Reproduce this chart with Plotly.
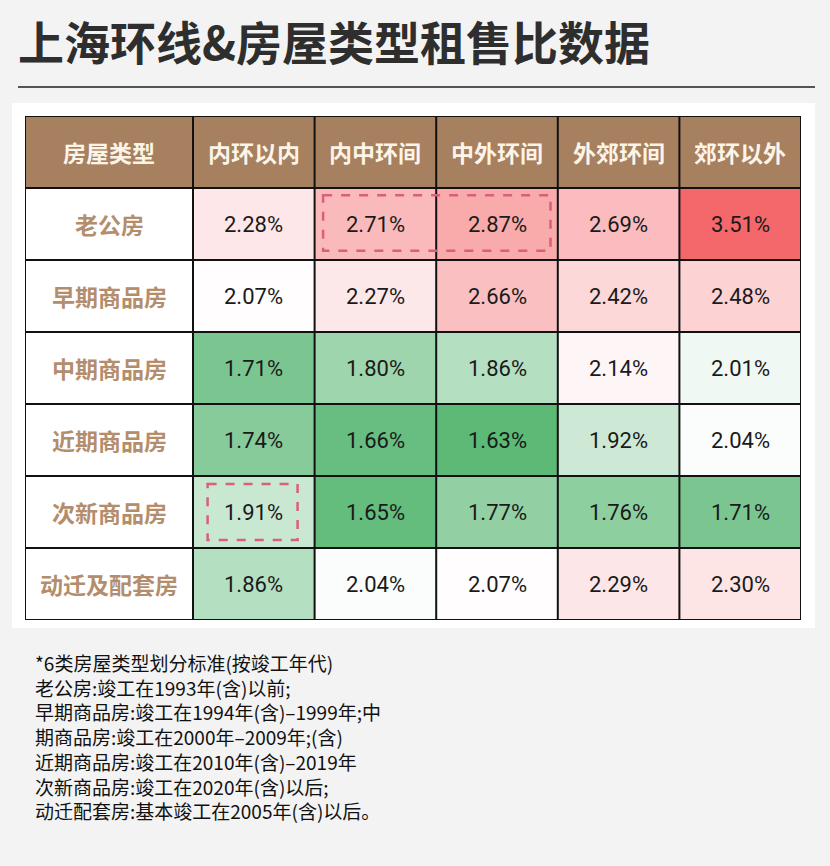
import plotly.graph_objects as go

# ---- data ----
title = '上海环线&房屋类型租售比数据'
ring_zones = ['内环以内', '内中环间', '中外环间', '外郊环间', '郊环以外']
house_types = ['老公房', '早期商品房', '中期商品房', '近期商品房', '次新商品房', '动迁及配套房']
ratios = [
    [2.28, 2.71, 2.87, 2.69, 3.51],
    [2.07, 2.27, 2.66, 2.42, 2.48],
    [1.71, 1.80, 1.86, 2.14, 2.01],
    [1.74, 1.66, 1.63, 1.92, 2.04],
    [1.91, 1.65, 1.77, 1.76, 1.71],
    [1.86, 2.04, 2.07, 2.29, 2.30],
]
corner_label = '房屋类型'
notes = [
    '*6类房屋类型划分标准(按竣工年代)',
    '老公房:竣工在1993年(含)以前;',
    '早期商品房:竣工在1994年(含)–1999年;中',
    '期商品房:竣工在2000年–2009年;(含)',
    '近期商品房:竣工在2010年(含)–2019年',
    '次新商品房:竣工在2020年(含)以后;',
    '动迁配套房:基本竣工在2005年(含)以后。',
]

W, H = 830, 866
CJK = 'Noto Sans CJK SC'
header_color = '#a6805f'
label_color = '#b38d6c'
bg_color = '#f3f3f3'

# table box in pixels
tx0, tx1, ty0, ty1 = 25, 801, 116, 620
label_w = 168 / ((tx1 - tx0 - 168) / 5)   # first column width in data units


def px(x):
    return x / W


def py(y):
    return 1 - y / H


ncol = len(ring_zones)
nrow = len(house_types)
zmin, zmax, zwhite = 1.63, 3.51, 2.05
pos_white = (zwhite - zmin) / (zmax - zmin)

fig = go.Figure()
fig.add_trace(go.Heatmap(
    z=ratios,
    x=list(range(ncol + 1)),
    y=list(range(nrow + 1)),
    zmin=zmin, zmax=zmax,
    colorscale=[[0, '#5cb976'], [pos_white, '#ffffff'], [1, '#f4676a']],
    showscale=False,
    hoverinfo='skip',
))

shapes = []
annotations = []

# white panel behind the table
shapes.append(dict(type='rect', xref='paper', yref='paper', layer='below',
                   x0=px(12), x1=px(815), y0=py(628), y1=py(103),
                   fillcolor='white', line=dict(width=0)))
# header band and label column
shapes.append(dict(type='rect', xref='x', yref='y', layer='below',
                   x0=-label_w, x1=ncol, y0=-1, y1=0,
                   fillcolor=header_color, line=dict(width=0)))
shapes.append(dict(type='rect', xref='x', yref='y', layer='below',
                   x0=-label_w, x1=0, y0=0, y1=nrow,
                   fillcolor='white', line=dict(width=0)))

# grid lines
for c in [-label_w] + list(range(ncol + 1)):
    shapes.append(dict(type='line', xref='x', yref='y', x0=c, x1=c, y0=-1, y1=nrow,
                       line=dict(color='#111111', width=2)))
for r in range(-1, nrow + 1):
    shapes.append(dict(type='line', xref='x', yref='y', x0=-label_w, x1=ncol, y0=r, y1=r,
                       line=dict(color='#111111', width=2)))

# dashed highlight boxes
for (xa, xb, ya, yb) in [(1.07, 2.94, 0.10, 0.87), (0.12, 0.86, 4.11, 4.89)]:
    shapes.append(dict(type='rect', xref='x', yref='y', x0=xa, x1=xb, y0=ya, y1=yb,
                       line=dict(color='#d9607a', width=2.5, dash='dash'),
                       fillcolor='rgba(0,0,0,0)'))

# separator under title
shapes.append(dict(type='line', xref='paper', yref='paper',
                   x0=px(18), x1=px(815), y0=py(87), y1=py(87),
                   line=dict(color='#555555', width=2)))

# header text
annotations.append(dict(x=-label_w / 2, y=-0.5, xref='x', yref='y', text=corner_label,
                        showarrow=False,
                        font=dict(family=CJK, size=23, color='#fdf4e8', weight='bold')))
for j, zone in enumerate(ring_zones):
    annotations.append(dict(x=j + 0.5, y=-0.5, xref='x', yref='y', text=zone,
                            showarrow=False,
                            font=dict(family=CJK, size=23, color='#fdf4e8', weight='bold')))
# row labels
for i, ht in enumerate(house_types):
    annotations.append(dict(x=-label_w / 2, y=i + 0.5, xref='x', yref='y', text=ht,
                            showarrow=False,
                            font=dict(family=CJK, size=23, color=label_color, weight='bold')))
# values
for i, row in enumerate(ratios):
    for j, v in enumerate(row):
        annotations.append(dict(x=j + 0.5, y=i + 0.5, xref='x', yref='y',
                                text=f'{v:.2f}%', showarrow=False,
                                font=dict(family='Roboto', size=22, color='#1a1a1a')))

# title
annotations.append(dict(x=px(16), y=py(40), xref='paper', yref='paper', text=title,
                        xanchor='left', yanchor='middle', showarrow=False,
                        font=dict(family=CJK, size=46, color='#2e2e2e', weight='bold')))

# footnotes (one block, plotly line spacing ~1.3em)
annotations.append(dict(x=px(33), y=py(647), xref='paper', yref='paper',
                        text='<br>'.join(notes), align='left',
                        xanchor='left', yanchor='top', showarrow=False,
                        font=dict(family=CJK, size=19, color='#111111')))

fig.update_layout(
    width=W, height=H,
    margin=dict(l=0, r=0, t=0, b=0),
    paper_bgcolor=bg_color,
    plot_bgcolor='rgba(0,0,0,0)',
    shapes=shapes,
    annotations=annotations,
    showlegend=False,
    xaxis=dict(domain=[px(tx0), px(tx1)], range=[-label_w, ncol],
               visible=False, fixedrange=True),
    yaxis=dict(domain=[py(ty1), py(ty0)], range=[nrow, -1],
               visible=False, fixedrange=True),
)

fig.write_html('out.html', config={'displayModeBar': False},
               post_script="document.body.style.margin='0';")
